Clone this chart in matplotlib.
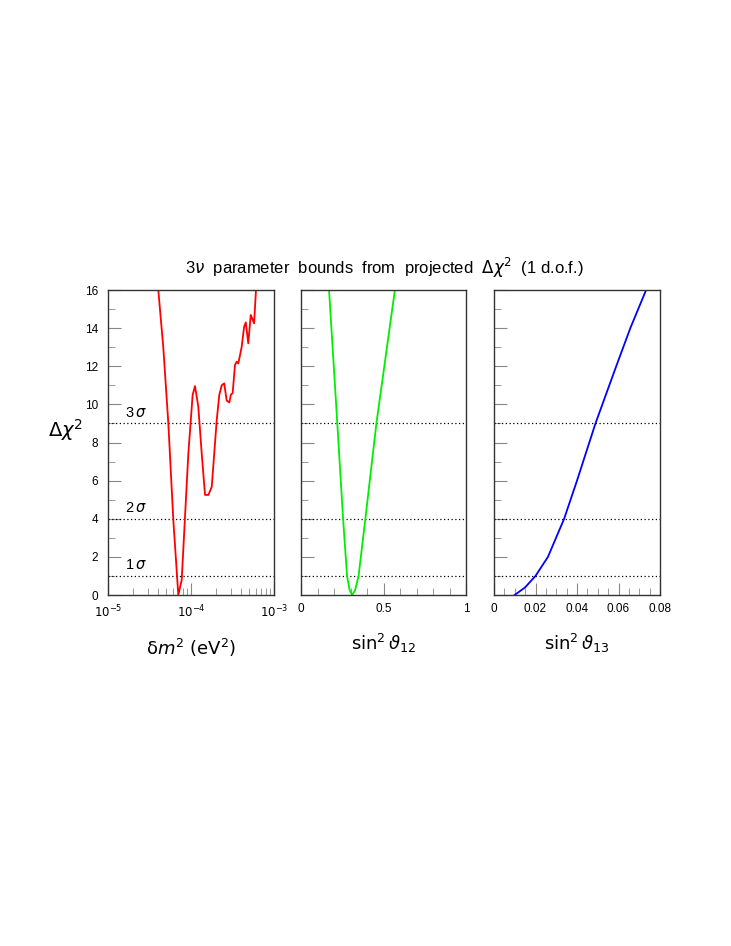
import numpy as np
import matplotlib
matplotlib.use("Agg")
import matplotlib.pyplot as plt
from matplotlib.ticker import LogLocator, MultipleLocator, FixedLocator

plt.rcParams['font.family'] = ['Liberation Sans', 'DejaVu Sans']
plt.rcParams['mathtext.fontset'] = 'dejavusans'

# delta m^2 panel (log10 of eV^2, delta chi^2)
dm2_log = [-4.394, -4.334, -4.273, -4.213, -4.153, -4.112, -4.032, -3.98, -3.952, -3.912,
           -3.871, -3.831, -3.79, -3.75, -3.69, -3.659, -3.63, -3.60, -3.57, -3.538,
           -3.52, -3.498, -3.47, -3.45, -3.43, -3.39, -3.36, -3.34, -3.31, -3.28, -3.24, -3.217]
dm2_chi = [16, 13.0, 9.0, 3.93, 0.0, 0.79, 7.43, 10.5, 10.96, 9.88,
           7.43, 5.25, 5.25, 5.68, 9.18, 10.5, 11.0, 11.1, 10.2, 10.1,
           10.5, 10.6, 12.07, 12.24, 12.15, 13.0, 14.07, 14.3, 13.2, 14.69, 14.25, 16]
# sin^2 theta12 panel
s12 = [0.17, 0.22, 0.255, 0.279, 0.295, 0.31, 0.328, 0.349, 0.39, 0.457, 0.569]
s12_chi = [16, 9, 4, 1, 0.25, 0, 0.25, 1, 4, 9, 16]
# sin^2 theta13 panel
s13 = [0.00994, 0.015, 0.02, 0.026, 0.0338, 0.040, 0.0489, 0.0589, 0.0657, 0.0733]
s13_chi = [0, 0.4, 1, 2, 4, 6, 9, 12, 14, 16]

sigma_levels = [1, 4, 9]
sigma_labels = [r'1$\,\sigma$', r'2$\,\sigma$', r'3$\,\sigma$']

W, H = 731, 946
fig = plt.figure(figsize=(W/100, H/100), dpi=100)
y0, y1 = 595, 290
panels = [(108, 274), (301, 466), (494, 660)]
axes = [fig.add_axes([l/W, 1-y0/H, (r-l)/W, (y0-y1)/H]) for l, r in panels]

for ax in axes:
    ax.set_ylim(0, 16)
    for lv in sigma_levels:
        ax.axhline(lv, color='black', ls=(0, (1, 2)), lw=0.9)
    ax.yaxis.set_major_locator(MultipleLocator(2))
    ax.yaxis.set_minor_locator(MultipleLocator(1))
    ax.tick_params(direction='in', which='both', top=False, right=False, labelsize=8.5)
    ax.tick_params(which='major', length=9, color='#888888')
    ax.tick_params(which='minor', length=5, color='#888888')
    ax.tick_params(axis='y', pad=7)
    ax.tick_params(axis='x', pad=6)
    for s in ax.spines.values():
        s.set_linewidth(1.0); s.set_color('#333333')

ax = axes[0]
ax.plot(10**np.array(dm2_log), dm2_chi, color='red', lw=1.3)
ax.set_xscale('log'); ax.set_xlim(1e-5, 1e-3)
ax.xaxis.set_major_locator(FixedLocator([1e-5, 1e-4, 1e-3]))
ax.xaxis.set_minor_locator(LogLocator(base=10, subs=np.arange(2, 10)))
ax.set_xticklabels([r'$10^{-5}$', r'$10^{-4}$', r'$10^{-3}$'])
for lv, lab in zip(sigma_levels, sigma_labels):
    ax.text(1.6e-5, lv + 0.2, lab, fontsize=10.5, ha='left', va='bottom')
ax.set_xlabel(r'$\mathrm{\delta} m^2\ (\mathrm{eV}^2)$', fontsize=13, labelpad=12)
ax.set_ylabel(r'$\Delta\chi^2$', fontsize=14, rotation=0, labelpad=14)

ax = axes[1]
ax.plot(s12, s12_chi, color='#00ee00', lw=1.3)
ax.set_xlim(0, 1)
ax.xaxis.set_major_locator(FixedLocator([0, 0.5, 1]))
ax.xaxis.set_minor_locator(MultipleLocator(0.1))
ax.set_xticklabels(['0', '0.5', '1'])
ax.set_yticklabels([])
ax.set_xlabel(r'$\sin^2\vartheta_{12}$', fontsize=13, labelpad=12)

ax = axes[2]
ax.plot(s13, s13_chi, color='blue', lw=1.3)
ax.set_xlim(0, 0.08)
ax.xaxis.set_major_locator(FixedLocator([0, 0.02, 0.04, 0.06, 0.08]))
ax.xaxis.set_minor_locator(MultipleLocator(0.005))
ax.set_xticklabels(['0', '0.02', '0.04', '0.06', '0.08'])
ax.set_yticklabels([])
ax.set_xlabel(r'$\sin^2\vartheta_{13}$', fontsize=13, labelpad=12)

fig.text(384/W, 1-268/H, r'3$\nu$  parameter  bounds  from  projected  $\Delta\chi^2$  (1 d.o.f.)',
         ha='center', va='center', fontsize=12)

fig.savefig('out.png', dpi=100, facecolor='white')
